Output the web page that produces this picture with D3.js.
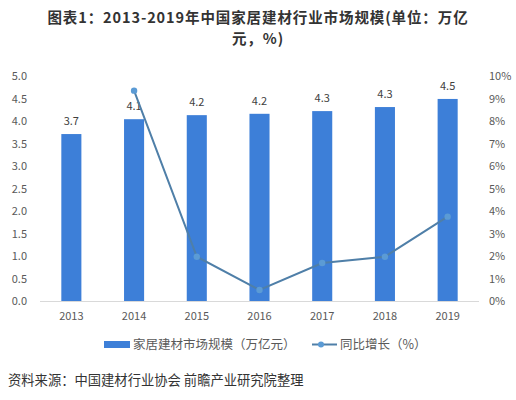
<!DOCTYPE html>
<html><head><meta charset="utf-8">
<script src="https://cdn.jsdelivr.net/npm/d3@7"></script>
<style>
html,body{margin:0;padding:0;background:#fff;}
svg{display:block;font-family:"Noto Sans CJK SC","Noto Sans",sans-serif;}
</style></head>
<body>
<script>
const years = ["2013","2014","2015","2016","2017","2018","2019"];
const marketSize = [3.71, 4.04, 4.13, 4.16, 4.22, 4.31, 4.49];
const sizeLabels = ["3.7","4.1","4.2","4.2","4.3","4.3","4.5"];
const growth = [null, 9.35, 1.97, 0.49, 1.69, 1.97, 3.75];
const leftTicks = [0,0.5,1,1.5,2,2.5,3,3.5,4,4.5,5];
const rightTicks = [0,1,2,3,4,5,6,7,8,9,10];
const titleLines = ["图表1：2013-2019年中国家居建材行业市场规模(单位：万亿","元，%)"];
const legendNames = ["家居建材市场规模（万亿元）","同比增长（%）"];
const sourceText = "资料来源：中国建材行业协会 前瞻产业研究院整理";

const W=516,H=400;
const svg=d3.select("body").append("svg").attr("width",W).attr("height",H);

const x=d3.scaleBand().domain(years).range([40,479]).paddingInner(0.68).paddingOuter(0.34);
const yL=d3.scaleLinear().domain([0,5]).range([301,76]);
const yR=d3.scaleLinear().domain([0,10]).range([301,76]);

// title (two lines)
svg.selectAll("text.title").data(titleLines).join("text").attr("class","title")
  .attr("text-anchor","middle").attr("x",258).attr("y",(d,i)=>22.5+i*21.5)
  .attr("font-size",14.5).attr("letter-spacing",0.9).attr("font-weight","bold").attr("fill","#333")
  .text(d=>d);

// bars
svg.selectAll("rect.bar").data(marketSize).join("rect")
  .attr("x",(d,i)=>x(years[i])).attr("width",x.bandwidth())
  .attr("y",d=>yL(d)).attr("height",d=>yL(0)-yL(d)).attr("fill","#3d7fd8");

svg.selectAll("text.blab").data(marketSize).join("text")
  .attr("x",(d,i)=>x(years[i])+x.bandwidth()/2).attr("y",d=>yL(d)-9)
  .attr("text-anchor","middle").attr("font-size",11).attr("fill","#404040")
  .text((d,i)=>sizeLabels[i]);

// baseline
svg.append("line").attr("x1",40).attr("x2",479).attr("y1",301.5).attr("y2",301.5).attr("stroke","#d9d9d9");

// axes
const axL=svg.append("g").attr("transform","translate(40,0)")
  .call(d3.axisLeft(yL).tickValues(leftTicks).tickFormat(d3.format(".1f")).tickSize(0).tickPadding(13));
const axR=svg.append("g").attr("transform","translate(479,0)")
  .call(d3.axisRight(yR).tickValues(rightTicks).tickFormat(d=>d+"%").tickSize(0).tickPadding(10));
const axB=svg.append("g").attr("transform","translate(0,301)")
  .call(d3.axisBottom(x).tickSize(0).tickPadding(11));
[axL,axR,axB].forEach(g=>{g.select(".domain").remove();
  g.selectAll("text").attr("font-size",11).attr("fill","#595959").attr("font-family","\"Noto Sans CJK SC\",sans-serif");});

// line
const pts=growth.map((v,i)=>({v,i})).filter(d=>d.v!==null);
const line=d3.line().x(d=>x(years[d.i])+x.bandwidth()/2).y(d=>yR(d.v));
svg.append("path").datum(pts).attr("d",line).attr("fill","none").attr("stroke","#4f7fa8").attr("stroke-width",2);
svg.selectAll("circle.pt").data(pts).join("circle")
  .attr("cx",d=>x(years[d.i])+x.bandwidth()/2).attr("cy",d=>yR(d.v)).attr("r",3.2).attr("fill","#5b9bd5");

// legend
const lg=svg.append("g").attr("font-size",12.5).attr("fill","#595959");
lg.append("rect").attr("x",104).attr("y",341).attr("width",26).attr("height",7).attr("fill","#3d7fd8");
lg.append("text").attr("x",133).attr("y",349).text(legendNames[0]);
lg.append("line").attr("x1",312).attr("x2",337).attr("y1",344.5).attr("y2",344.5).attr("stroke","#4f7fa8").attr("stroke-width",2);
lg.append("circle").attr("cx",321).attr("cy",344.5).attr("r",3).attr("fill","#5b9bd5");
lg.append("text").attr("x",340).attr("y",349).text(legendNames[1]);

// source
svg.append("text").attr("x",8).attr("y",385).attr("font-size",13.3).attr("fill","#333").text(sourceText);
</script>
</body></html>
